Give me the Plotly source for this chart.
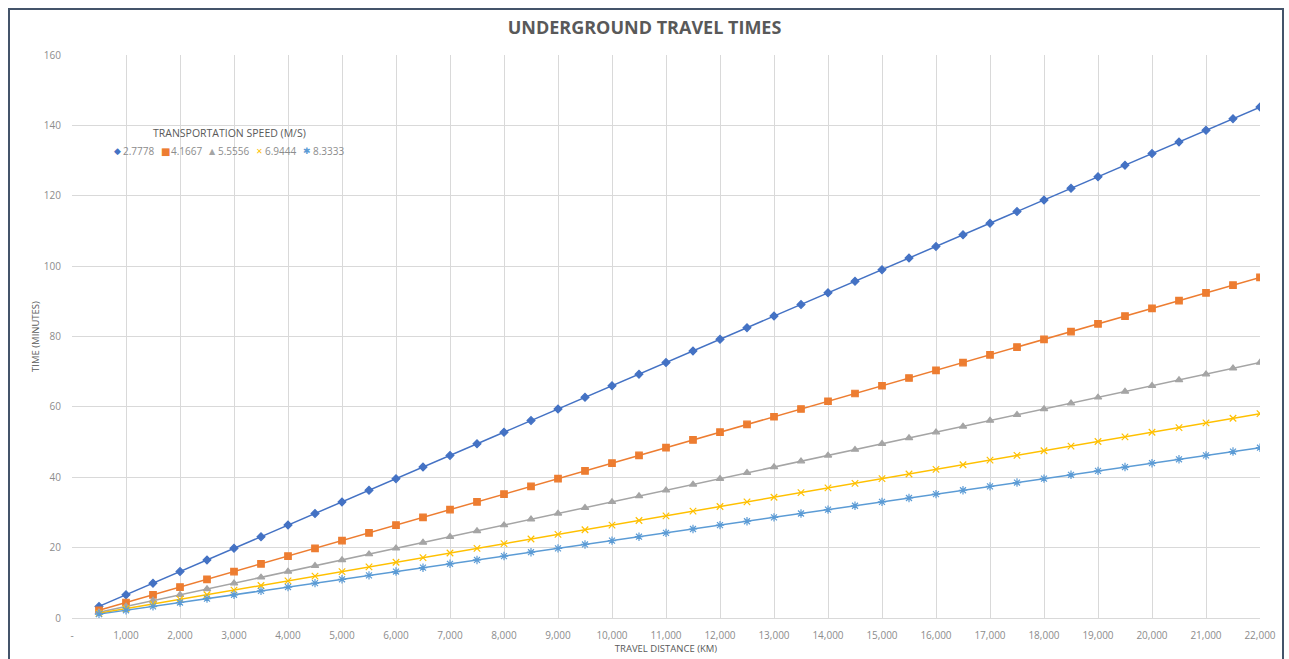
import plotly.graph_objects as go

# Travel distance (x) for every plotted point
distance_km = [500, 1000, 1500, 2000, 2500, 3000, 3500, 4000, 4500, 5000,
               5500, 6000, 6500, 7000, 7500, 8000, 8500, 9000, 9500, 10000,
               10500, 11000, 11500, 12000, 12500, 13000, 13500, 14000, 14500, 15000,
               15500, 16000, 16500, 17000, 17500, 18000, 18500, 19000, 19500, 20000,
               20500, 21000, 21500, 22000]

# Travel time in minutes, one list per transportation speed (m/s)
time_2_7778 = [3.3, 6.6, 9.9, 13.2, 16.5, 19.8, 23.1, 26.4, 29.7, 33.0,
               36.3, 39.6, 42.9, 46.2, 49.5, 52.8, 56.1, 59.4, 62.7, 66.0,
               69.3, 72.6, 75.9, 79.2, 82.5, 85.8, 89.1, 92.4, 95.7, 99.0,
               102.3, 105.6, 108.9, 112.2, 115.5, 118.8, 122.1, 125.4, 128.7, 132.0,
               135.3, 138.6, 141.9, 145.2]
time_4_1667 = [2.2, 4.4, 6.6, 8.8, 11.0, 13.2, 15.4, 17.6, 19.8, 22.0,
               24.2, 26.4, 28.6, 30.8, 33.0, 35.2, 37.4, 39.6, 41.8, 44.0,
               46.2, 48.4, 50.6, 52.8, 55.0, 57.2, 59.4, 61.6, 63.8, 66.0,
               68.2, 70.4, 72.6, 74.8, 77.0, 79.2, 81.4, 83.6, 85.8, 88.0,
               90.2, 92.4, 94.6, 96.8]
time_5_5556 = [1.65, 3.3, 4.95, 6.6, 8.25, 9.9, 11.55, 13.2, 14.85, 16.5,
               18.15, 19.8, 21.45, 23.1, 24.75, 26.4, 28.05, 29.7, 31.35, 33.0,
               34.65, 36.3, 37.95, 39.6, 41.25, 42.9, 44.55, 46.2, 47.85, 49.5,
               51.15, 52.8, 54.45, 56.1, 57.75, 59.4, 61.05, 62.7, 64.35, 66.0,
               67.65, 69.3, 70.95, 72.6]
time_6_9444 = [1.32, 2.64, 3.96, 5.28, 6.6, 7.92, 9.24, 10.56, 11.88, 13.2,
               14.52, 15.84, 17.16, 18.48, 19.8, 21.12, 22.44, 23.76, 25.08, 26.4,
               27.72, 29.04, 30.36, 31.68, 33.0, 34.32, 35.64, 36.96, 38.28, 39.6,
               40.92, 42.24, 43.56, 44.88, 46.2, 47.52, 48.84, 50.16, 51.48, 52.8,
               54.12, 55.44, 56.76, 58.08]
time_8_3333 = [1.1, 2.2, 3.3, 4.4, 5.5, 6.6, 7.7, 8.8, 9.9, 11.0,
               12.1, 13.2, 14.3, 15.4, 16.5, 17.6, 18.7, 19.8, 20.9, 22.0,
               23.1, 24.2, 25.3, 26.4, 27.5, 28.6, 29.7, 30.8, 31.9, 33.0,
               34.1, 35.2, 36.3, 37.4, 38.5, 39.6, 40.7, 41.8, 42.9, 44.0,
               45.1, 46.2, 47.3, 48.4]

speed_labels = ["2.7778", "4.1667", "5.5556", "6.9444", "8.3333"]

x_tick_values = [0, 1000, 2000, 3000, 4000, 5000, 6000, 7000, 8000, 9000, 10000,
                 11000, 12000, 13000, 14000, 15000, 16000, 17000, 18000, 19000,
                 20000, 21000, 22000]
x_tick_labels = ["-", "1,000", "2,000", "3,000", "4,000", "5,000", "6,000", "7,000",
                 "8,000", "9,000", "10,000", "11,000", "12,000", "13,000", "14,000",
                 "15,000", "16,000", "17,000", "18,000", "19,000", "20,000",
                 "21,000", "22,000"]
y_tick_values = [0, 20, 40, 60, 80, 100, 120, 140, 160]

series = [time_2_7778, time_4_1667, time_5_5556, time_6_9444, time_8_3333]
colors = ["#4472C4", "#ED7D31", "#A5A5A5", "#FFC000", "#5B9BD5"]
symbols = ["diamond", "square", "triangle-up", "x-thin-open", "asterisk-open"]
sizes = [6, 6.5, 6.5, 6.5, 7]
legend_glyphs = ["\u25C6", "\u25A0", "\u25B2", "\u2715", "\u2731"]
legend_glyph_sizes = [9, 10, 8, 8, 9]

FONT = "Open Sans"
TEXT_GREY = "#595959"
TICK_GREY = "#8C8C8C"
GRID = "#D9D9D9"

# Pixel geometry of the plotting area
PX_L, PX_R, PX_T, PX_B = 72, 1260, 55, 618
plot_w, plot_h = PX_R - PX_L, PX_B - PX_T


def px_x(px):
    return (px - PX_L) / plot_w


def px_y(py):
    return (PX_B - py) / plot_h


fig = go.Figure()
for vals, label, col, sym, sz in zip(series, speed_labels, colors, symbols, sizes):
    fig.add_trace(go.Scatter(
        x=distance_km, y=vals, name=label, mode="lines+markers",
        line=dict(color=col, width=1.5),
        marker=dict(symbol=sym, size=sz, color=col,
                    line=dict(color=col, width=1.2)),
    ))

fig.update_layout(
    width=1289, height=659,
    margin=dict(l=PX_L, r=1289 - PX_R, t=PX_T, b=659 - PX_B),
    paper_bgcolor="white", plot_bgcolor="white",
    font=dict(family=FONT, color=TEXT_GREY, size=10),
    title=dict(text="<b>UNDERGROUND TRAVEL TIMES</b>", x=0.5, xanchor="center",
               y=1 - 28 / 659, yanchor="middle",
               font=dict(family=FONT, size=18, color=TEXT_GREY)),
    showlegend=False,
    xaxis=dict(
        range=[0, 22000], tickvals=x_tick_values, ticktext=x_tick_labels,
        showgrid=True, gridcolor=GRID, gridwidth=1, zeroline=False,
        showline=False, ticks="outside", ticklen=8, tickcolor="rgba(0,0,0,0)",
        tickfont=dict(family=FONT, size=10, color=TICK_GREY), automargin=False,
        title=dict(text="TRAVEL DISTANCE (KM)", standoff=2,
                   font=dict(family=FONT, size=9.5, color=TEXT_GREY)),
    ),
    yaxis=dict(
        range=[0, 160], tickvals=y_tick_values,
        showgrid=True, gridcolor=GRID, gridwidth=1, zeroline=True,
        zerolinecolor=GRID, zerolinewidth=1,
        showline=False, ticks="outside", ticklen=8, tickcolor="rgba(0,0,0,0)",
        tickfont=dict(family=FONT, size=10, color=TICK_GREY), automargin=False,
        title=dict(text="TIME (MINUTES)", standoff=2,
                   font=dict(family=FONT, size=9.5, color=TEXT_GREY)),
    ),
)

# Series key: title plus one marker glyph and label per speed
annotations = [dict(
    text="TRANSPORTATION SPEED (M/S)", xref="paper", yref="paper",
    x=px_x(229), y=px_y(133), xanchor="center", yanchor="middle",
    showarrow=False, font=dict(family=FONT, size=10.5, color=TEXT_GREY),
)]
key_x = [117, 165, 212, 259, 307]
for kx, glyph, gsize, col, label in zip(key_x, legend_glyphs, legend_glyph_sizes,
                                         colors, speed_labels):
    annotations.append(dict(
        text=glyph, xref="paper", yref="paper", x=px_x(kx), y=px_y(151),
        xanchor="center", yanchor="middle", showarrow=False,
        font=dict(family="DejaVu Sans", size=gsize, color=col),
    ))
    annotations.append(dict(
        text=label, xref="paper", yref="paper", x=px_x(kx + 4), y=px_y(151),
        xanchor="left", yanchor="middle", showarrow=False,
        font=dict(family=FONT, size=10, color=TICK_GREY),
    ))
fig.update_layout(annotations=annotations)

# Chart frame around the whole figure (runs past the bottom edge)
fig.add_shape(type="rect", xref="paper", yref="paper",
              x0=px_x(9), x1=px_x(1283), y0=px_y(680), y1=px_y(9),
              line=dict(color="#44546A", width=2), fillcolor="rgba(0,0,0,0)",
              layer="above")

fig.write_html("out.html")
